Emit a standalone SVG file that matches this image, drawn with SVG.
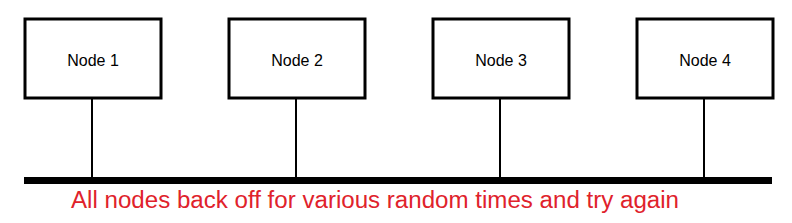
<svg xmlns="http://www.w3.org/2000/svg" width="792" height="223" viewBox="0 0 792 223">
<style>
.box{fill:#fff;stroke:#000;stroke-width:3}
.lbl{font-family:"Liberation Sans",Arial,sans-serif;font-size:16px;fill:#000;text-anchor:middle}
.drop{stroke:#000;stroke-width:2;fill:none}
.bus{stroke:#000;stroke-width:7;fill:none}
.note{font-family:"Liberation Sans",Arial,sans-serif;font-size:23px;fill:#e0222b}
</style>
<rect width="792" height="223" fill="#fff"/>
<g id="connectors">
<line class="drop" x1="92" y1="99" x2="92" y2="178"/>
<line class="drop" x1="296" y1="99" x2="296" y2="178"/>
<line class="drop" x1="500" y1="99" x2="500" y2="178"/>
<line class="drop" x1="704" y1="99" x2="704" y2="178"/>
<line id="bus" class="bus" x1="24" y1="180.5" x2="772" y2="180.5"/>
</g>
<g id="node1"><rect class="box" x="25" y="19" width="136" height="79"/><text class="lbl" x="93" y="66">Node 1</text></g>
<g id="node2"><rect class="box" x="229" y="19" width="136" height="79"/><text class="lbl" x="297" y="66">Node 2</text></g>
<g id="node3"><rect class="box" x="433" y="19" width="136" height="79"/><text class="lbl" x="501" y="66">Node 3</text></g>
<g id="node4"><rect class="box" x="637" y="19" width="136" height="79"/><text class="lbl" x="705" y="66">Node 4</text></g>
<text class="note" x="71" y="207.5" textLength="608" lengthAdjust="spacingAndGlyphs">All nodes back off for various random times and try again</text>
</svg>
